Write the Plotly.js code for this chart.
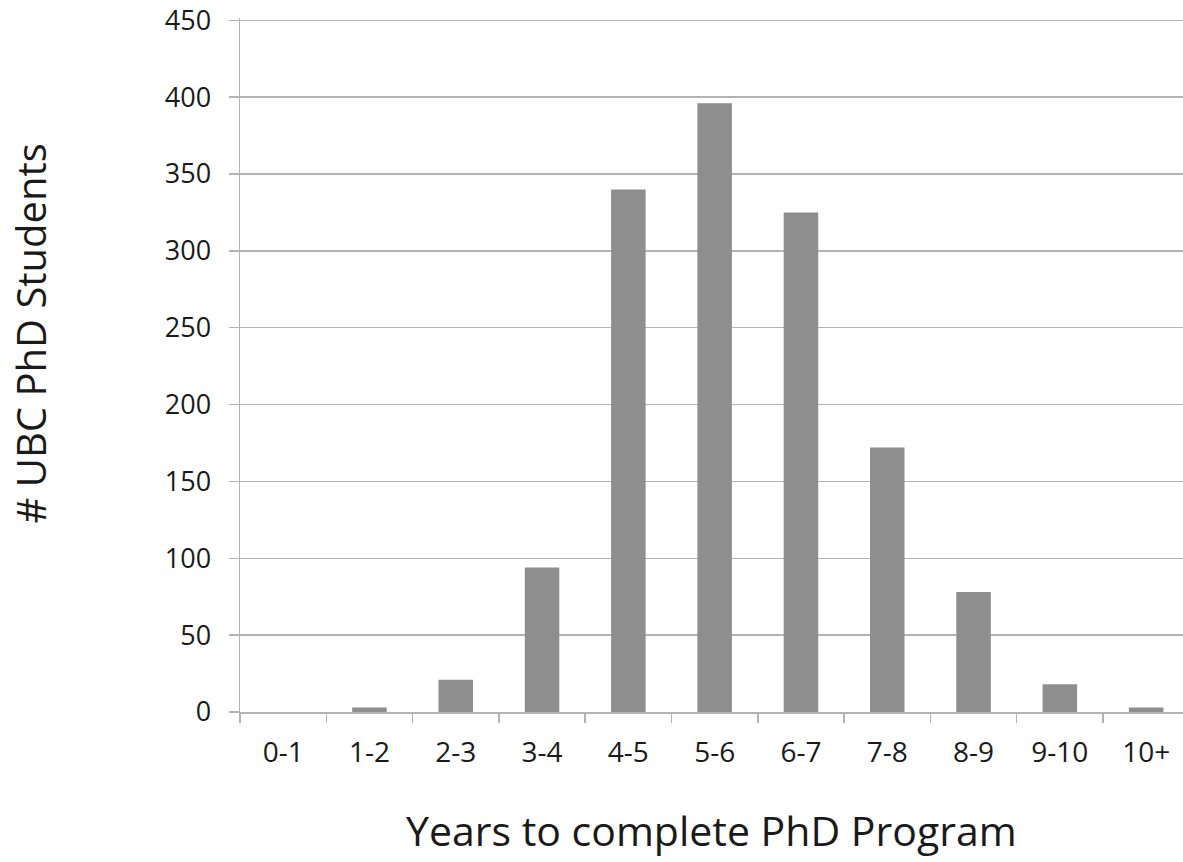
<!DOCTYPE html>
<html>
<head>
<meta charset="utf-8">
<script src="https://cdn.plot.ly/plotly-3.0.1.min.js"></script>
<style>
html, body { margin: 0; padding: 0; background: #fff; overflow: hidden; }
#chart { width: 1183px; height: 862px; }
</style>
</head>
<body>
<div id="chart"></div>
<script>
const categories = ["0-1", "1-2", "2-3", "3-4", "4-5", "5-6", "6-7", "7-8", "8-9", "9-10", "10+"];
const students = [0, 3, 21, 94, 340, 396, 325, 172, 78, 18, 3];
const yTickValues = [0, 50, 100, 150, 200, 250, 300, 350, 400, 450];
const xTitle = "Years to complete PhD Program";
const yTitle = "# UBC PhD Students";

const FONT = "'Open Sans', 'Lato', sans-serif";
const TEXT = "#1a1a1a";
const GRID = "#b3b3b3";

const trace = {
  type: "bar",
  x: categories,
  y: students,
  marker: { color: "#8e8e8e", line: { width: 0 } },
  hoverinfo: "x+y"
};

const layout = {
  width: 1183,
  height: 862,
  margin: { l: 240, r: 0, t: 18, b: 150 },
  paper_bgcolor: "#ffffff",
  plot_bgcolor: "#ffffff",
  bargap: 0.6,
  showlegend: false,
  font: { family: FONT, color: TEXT, size: 27 },
  xaxis: {
    type: "category",
    range: [-0.5, 10.427],
    showgrid: false,
    showline: true,
    linecolor: GRID,
    linewidth: 2,
    ticks: "outside",
    tickson: "boundaries",
    ticklen: 9,
    tickwidth: 1.5,
    tickcolor: GRID,
    ticklabelstandoff: 14,
    tickfont: { family: FONT, size: 28, color: TEXT },
    automargin: false,
    fixedrange: true
  },
  yaxis: {
    range: [0, 451.5],
    tickvals: yTickValues,
    ticktext: yTickValues.map(String),
    showgrid: true,
    gridcolor: GRID,
    gridwidth: 1.5,
    zeroline: false,
    showline: true,
    linecolor: GRID,
    linewidth: 1.5,
    ticks: "outside",
    ticklen: 10,
    tickwidth: 1.5,
    tickcolor: GRID,
    ticklabelstandoff: 12,
    ticklabeloverflow: "allow",
    tickfont: { family: FONT, size: 27, color: TEXT },
    automargin: false,
    fixedrange: true
  },
  annotations: [
    {
      text: yTitle,
      xref: "paper", yref: "paper",
      x: -0.222, y: 0.545,
      xanchor: "center", yanchor: "middle",
      textangle: -90,
      showarrow: false,
      font: { family: FONT, size: 40, color: TEXT }
    },
    {
      text: xTitle,
      xref: "paper", yref: "paper",
      x: 0.5, y: -0.213,
      xanchor: "center", yanchor: "bottom",
      showarrow: false,
      font: { family: FONT, size: 41, color: TEXT }
    }
  ]
};

Plotly.newPlot("chart", [trace], layout, { displayModeBar: false, staticPlot: true });
</script>
</body>
</html>
